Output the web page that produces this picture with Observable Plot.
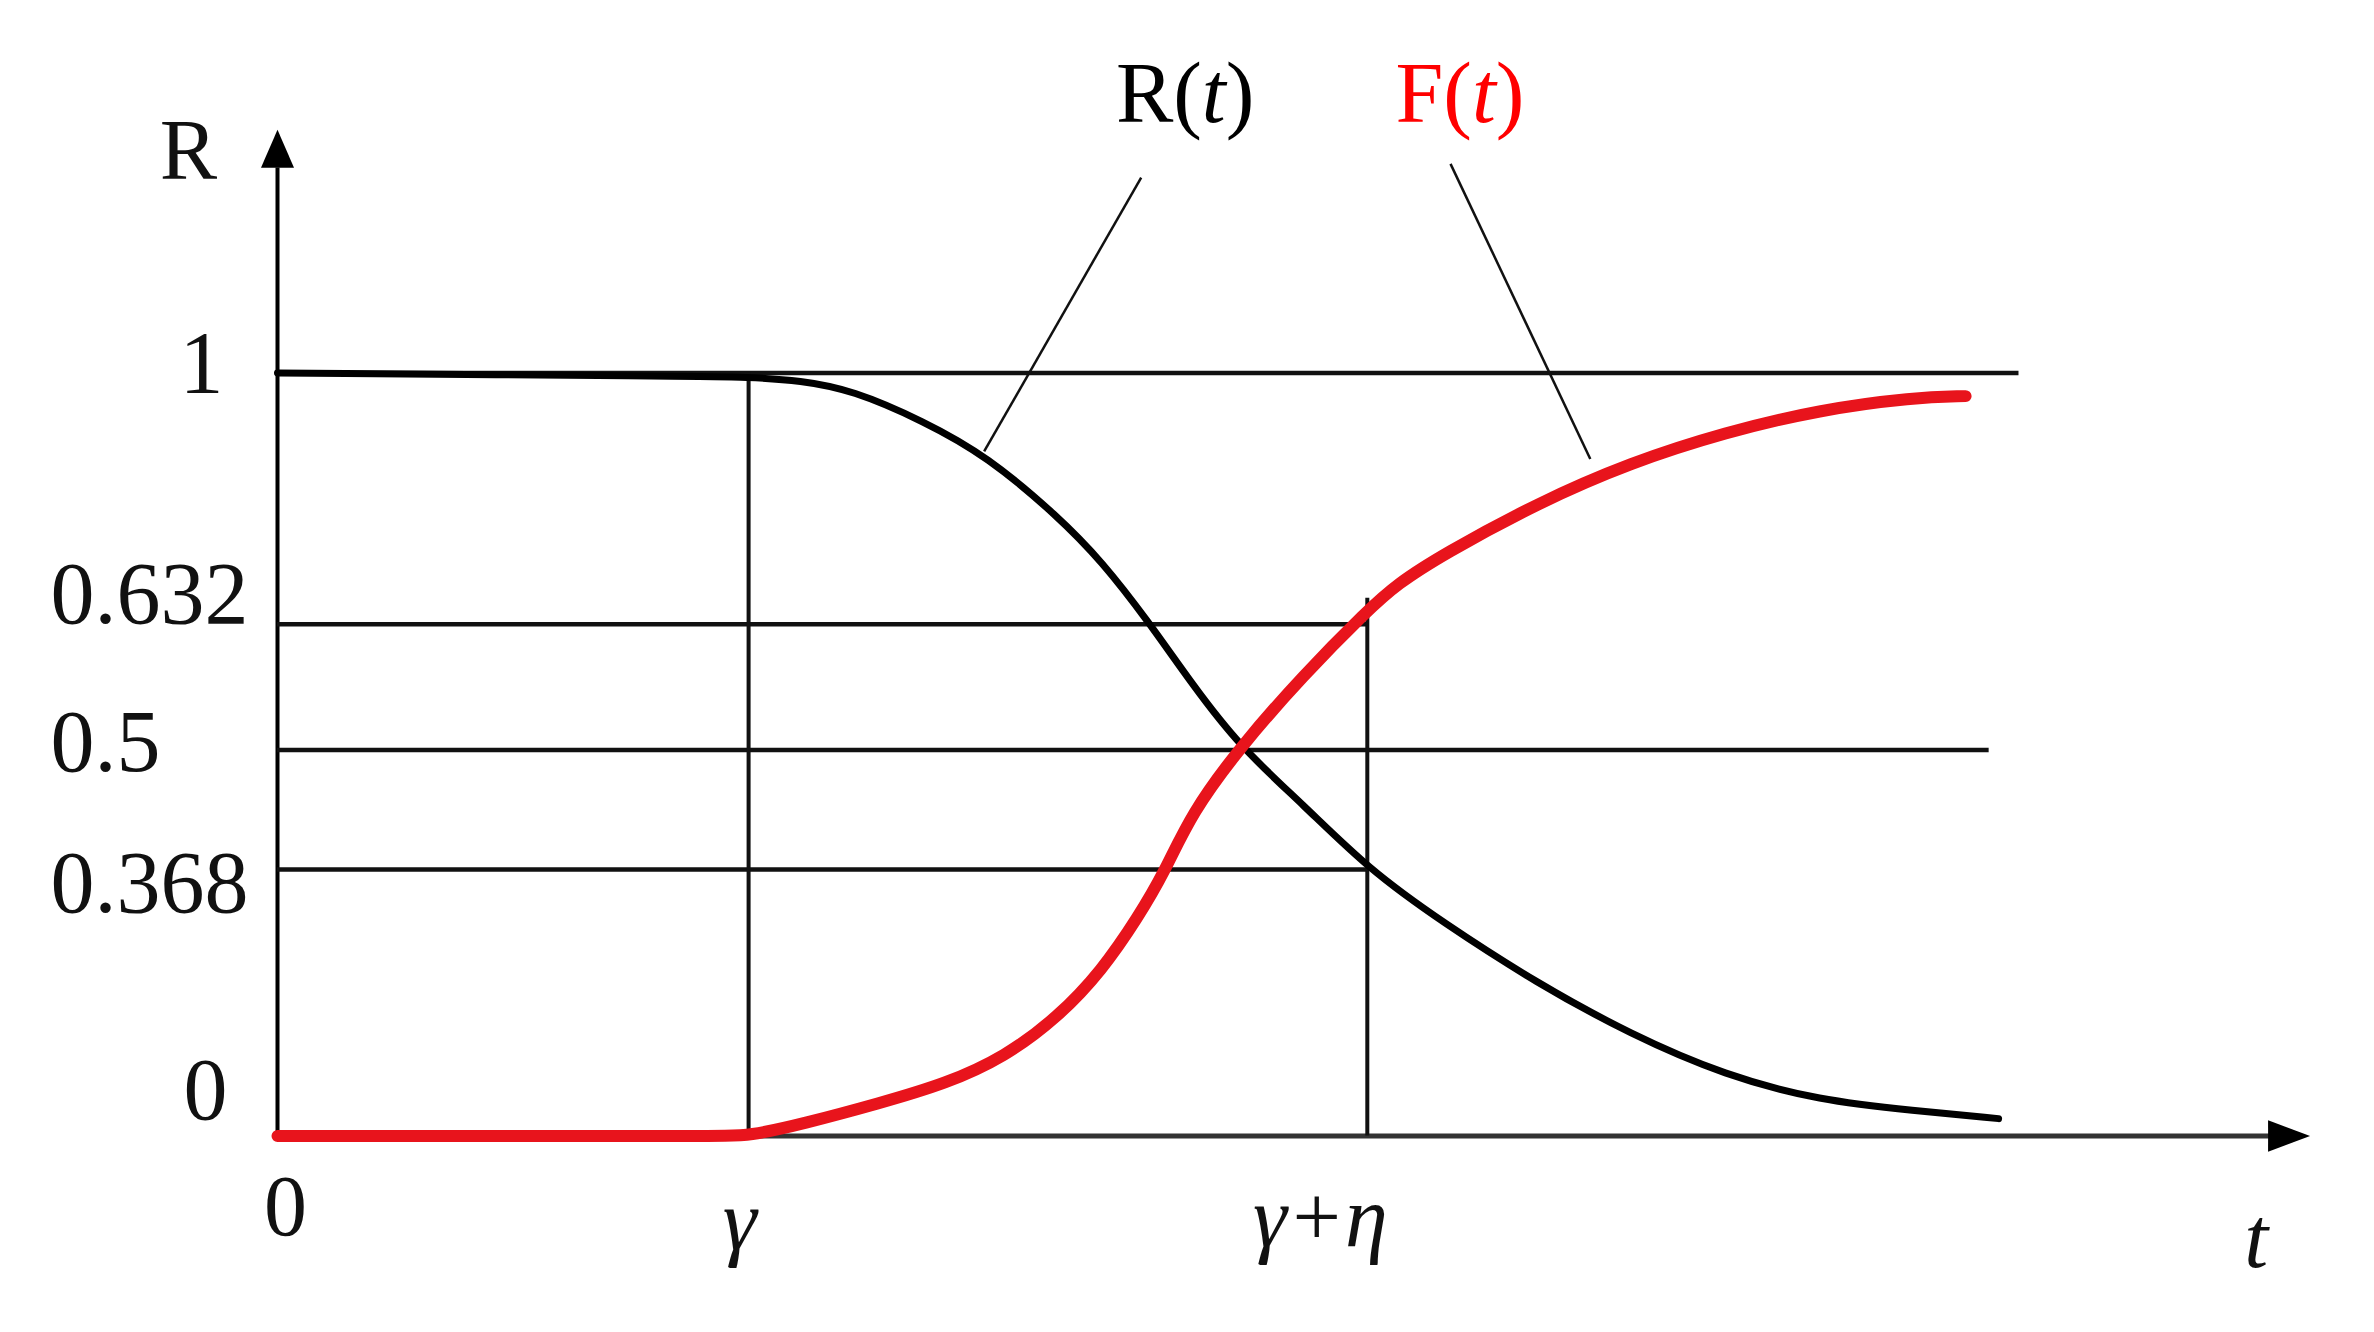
<!DOCTYPE html>
<html>
<head>
<meta charset="utf-8">
<script src="https://cdn.jsdelivr.net/npm/d3@7"></script>
<script src="https://cdn.jsdelivr.net/npm/@observablehq/plot@0.6"></script>
<style>
  html, body { margin: 0; padding: 0; background: #fff; }
  svg { display: block; }
</style>
</head>
<body>
<div id="chart"></div>
<script>
// ---- data (t in arbitrary time units, γ = 3) ----
const rT = [0, 2.6, 3.0, 3.33, 3.66, 4.11, 4.52, 4.97, 5.25, 5.54, 5.82, 6.13, 6.53, 6.95, 7.42, 8.02, 8.62, 9.22, 9.82, 10.42, 10.96];
const rV = [1.0, 0.995, 0.994, 0.989, 0.975, 0.930, 0.878, 0.790, 0.724, 0.638, 0.570, 0.503, 0.440, 0.368, 0.295, 0.211, 0.140, 0.0835, 0.049, 0.035, 0.024];
const fT = [0, 2.8, 3.0, 3.35, 3.83, 4.26, 4.63, 4.97, 5.25, 5.48, 5.65, 5.82, 6.13, 6.53, 6.94, 7.13, 7.42, 8.02, 8.62, 9.22, 9.82, 10.42, 10.75];
const fV = [0, 0, 0, 0.017, 0.045, 0.0725, 0.109, 0.164, 0.2285, 0.302, 0.365, 0.430, 0.503, 0.578, 0.652, 0.691, 0.734, 0.809, 0.869, 0.913, 0.946, 0.964, 0.966];

const gamma = 3.0;
const gammaEta = 6.94;
const levels = [1, 0.632, 0.5, 0.368];
const levelEnds = [11.09, gammaEta, 10.90, gammaEta];
const vLines = [gamma, gammaEta];
const vLineTops = [1, 0.67];
const yTickValues = [1, 0.632, 0.5, 0.368, 0];
const yTickLabels = ["1", "0.632", "0.5", "0.368", "0"];
const xTickValues = [0, gamma, gammaEta, 12.6];
const xTickLabels = ["0", "γ", "γ+η", "t"];
const axisTopY = 1.30, arrowY = 1.328;
const axisEndX = 12.7, arrowX = 12.81;
const seriesLabels = [
  {name: "R(t)", t: 5.78, v: 1.408, color: "#000000", lx1: 5.50, ly1: 1.286, lx2: 4.50, ly2: 0.885},
  {name: "F(t)", t: 7.53, v: 1.408, color: "#ff0000", lx1: 7.47, ly1: 1.306, lx2: 8.36, ly2: 0.874}
];

const rData = rT.map((t, i) => ({t, v: rV[i]}));
const fData = fT.map((t, i) => ({t, v: fV[i]}));

const FONT = '"Liberation Serif", "Times New Roman", serif';

const upTri = { draw(ctx, size) { const r = Math.sqrt(size / Math.PI); ctx.moveTo(0, -r); ctx.lineTo(0.87 * r, r); ctx.lineTo(-0.87 * r, r); ctx.closePath(); } };
const rightTri = { draw(ctx, size) { const r = Math.sqrt(size / Math.PI); ctx.moveTo(r, 0); ctx.lineTo(-r, 0.75 * r); ctx.lineTo(-r, -0.75 * r); ctx.closePath(); } };

function yLabel(i, anchor, dx, dy) {
  return Plot.text([yTickValues[i]], {x: () => 0, y: d => d, text: () => yTickLabels[i],
    textAnchor: anchor, dx, dy, fontSize: 88, fill: "#111"});
}
function xLabel(i, dx, dy, italic) {
  return Plot.text([xTickValues[i]], {x: d => d, y: () => 0, text: () => xTickLabels[i],
    textAnchor: "middle", dx, dy, fontSize: 86, fontStyle: italic ? "italic" : "normal", fill: "#111"});
}

const chart = Plot.plot({
  width: 2374,
  height: 1332,
  style: {fontFamily: FONT, background: "#fff"},
  x: {type: "linear", domain: [0, 12.94], range: [277, 2309], axis: null},
  y: {type: "linear", domain: [0, 0.368, 0.5, 0.632, 1], range: [1135.5, 869, 749.4, 623.8, 372.4], axis: null},
  marks: [
    // axes
    Plot.ruleX([0], {y1: () => 0, y2: () => axisTopY, stroke: "#000", strokeWidth: 4}),
    Plot.ruleY([0], {x1: () => 0, x2: () => axisEndX, stroke: "#333", strokeWidth: 5}),
    Plot.dot([arrowY], {x: () => 0, y: d => d, symbol: upTri, r: 19, fill: "#000", stroke: "none"}),
    Plot.dot([arrowX], {x: d => d, y: () => 0, symbol: rightTri, r: 21, fill: "#000", stroke: "none"}),
    // guide lines
    Plot.ruleY(levels.map((v, i) => ({v, e: levelEnds[i]})), {y: "v", x1: () => 0, x2: "e", stroke: "#111", strokeWidth: 4.5}),
    Plot.ruleX(vLines.map((t, i) => ({t, top: vLineTops[i]})), {x: "t", y1: () => 0, y2: "top", stroke: "#111", strokeWidth: 4}),
    // leader lines
    Plot.link(seriesLabels, {x1: "lx1", y1: "ly1", x2: "lx2", y2: "ly2", stroke: "#111", strokeWidth: 2.5}),
    // curves
    Plot.line(rData, {x: "t", y: "v", curve: "basis", stroke: "#000", strokeWidth: 7}),
    Plot.line(fData, {x: "t", y: "v", curve: "basis", stroke: "#e8141c", strokeWidth: 12, strokeLinecap: "round"}),
    // series labels
    Plot.text(seriesLabels, {x: "t", y: "v", text: "name", fill: "color", fontSize: 86, textAnchor: "middle"}),
    // y tick labels
    yLabel(0, "middle", -76, -9),
    yLabel(1, "start", -227, -29),
    yLabel(2, "start", -227, -7),
    yLabel(3, "start", -227, 14),
    yLabel(4, "middle", -72, -45),
    Plot.text([arrowY], {x: () => 0, y: d => d, text: () => "R", textAnchor: "middle", dx: -89, dy: 3, fontSize: 86, fill: "#111"}),
    // x tick labels
    xLabel(0, 8, 71, false),
    xLabel(1, -9, 85, true),
    xLabel(2, -47, 82, true),
    xLabel(3, 0, 103, true)
  ]
});

chart.querySelectorAll("text").forEach(el => {
  const s = el.textContent;
  if (s === "R(t)" || s === "F(t)") {
    el.innerHTML = s[0] + '(<tspan font-style="italic">t</tspan>)';
  }
});

document.getElementById("chart").appendChild(chart);
</script>
</body>
</html>
